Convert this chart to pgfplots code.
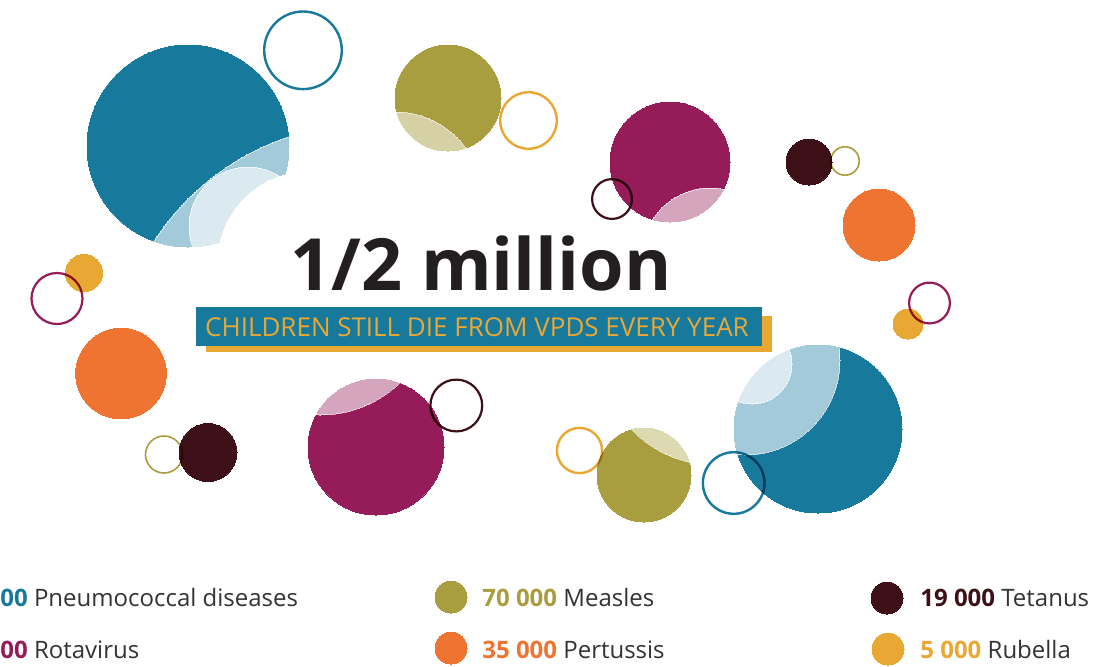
\documentclass[border=0pt]{standalone}
\usepackage{pgfplots}
\pgfplotsset{compat=1.18}
\usepackage{fontspec}
\setmainfont{Open Sans}
\definecolor{cTeal}{HTML}{17799C}
\definecolor{cOlive}{HTML}{A89E3F}
\definecolor{cOrange}{HTML}{EF7431}
\definecolor{cMagenta}{HTML}{951B59}
\definecolor{cMaroon}{HTML}{3D0F16}
\definecolor{cYellow}{HTML}{E9A834}
\definecolor{cText}{HTML}{231F20}
\definecolor{cLeg}{HTML}{333333}
\pgfplotsset{
  disc/.style 2 args={scatter, only marks, mark=*,
    scatter/use mapped color={draw=#1, fill=#1, line width=0pt, blend mode=#2},
    visualization depends on={0.5*\thisrow{r} \as \myR},
    scatter/@pre marker code/.append style={/tikz/mark size=\myR}},
  ring/.style 2 args={scatter, only marks, mark=o,
    scatter/use mapped color={draw=#1, line width=#2*0.5pt, blend mode=multiply},
    visualization depends on={0.5*(\thisrow{r}-#2/2) \as \myR},
    scatter/@pre marker code/.append style={/tikz/mark size=\myR}},
}
\begin{document}
\begin{tikzpicture}
\fill[white] (0,0) rectangle (560pt,333pt);
\path[use as bounding box] (0,0) rectangle (560pt,333pt);
\begin{axis}[hide axis, scale only axis, width=560pt, height=333pt,
  xmin=0, xmax=1120, ymin=0, ymax=666, y dir=reverse, clip=false]
% --- big teal (top left) with highlights
\addplot[disc={cTeal}{normal}] table {
x y r
188 146 101
};
\addplot[disc={white!60!black}{screen}] table {
x y r
369 380 256
248 226 59
};
\addplot[disc={white}{normal}] table {
x y r
308 262 90
};
% --- olive top
\addplot[disc={cOlive}{normal}] table {
x y r
448 98 53
};
\addplot[disc={white!52!black}{screen}] table {
x y r
395 200 88
};
% --- magenta top
\addplot[disc={cMagenta}{normal}] table {
x y r
670 162 60
};
\addplot[disc={white!60!black}{screen}] table {
x y r
710 256 68
};
% --- magenta bottom
\addplot[disc={cMagenta}{normal}] table {
x y r
376 447 68
};
\addplot[disc={white!60!black}{screen}] table {
x y r
320 300 115
};
% --- olive bottom
\addplot[disc={cOlive}{normal}] table {
x y r
644 475 47
};
\addplot[disc={white!60!black}{screen}] table {
x y r
715 350 115
};
% --- teal bottom right
\addplot[disc={cTeal}{normal}] table {
x y r
818 429 84
};
\addplot[disc={white!60!black}{screen}] table {
x y r
745 360 95
752 364 40
};
% --- plain discs
\addplot[disc={cOrange}{normal}] table {
x y r
121 373.5 45.3
879 225 36
};
\addplot[disc={cMaroon}{normal}] table {
x y r
809 162 23
208 452.5 29
};
\addplot[disc={cYellow}{normal}] table {
x y r
84 273 18.5
908 324 15
};
% --- rings
\addplot[ring={cTeal}{2.4}] table {
x y r
303 50.3 40
733.7 483 32
};
\addplot[ring={cYellow}{2.4}] table {
x y r
528.5 120.5 29.5
579.5 450.5 23.8
};
\addplot[ring={cMaroon}{2.2}] table {
x y r
612 199 21
456.3 405.5 27
};
\addplot[ring={cOlive}{1.6}] table {
x y r
845 161 15
164 454.5 19.3
};
\addplot[ring={cMagenta}{2.2}] table {
x y r
929.5 303 21.5
57 298.5 26.6
};
% --- legend markers
\addplot[disc={cOlive}{normal}] table {
x y r
451 597 16
};
\addplot[disc={cOrange}{normal}] table {
x y r
451 648 16
};
\addplot[disc={cMaroon}{normal}] table {
x y r
887 598 16
};
\addplot[disc={cYellow}{normal}] table {
x y r
888 649 16
};
\end{axis}
% --- texts (pixel coordinates, y downward)
\begin{scope}[x=0.5pt, y=-0.5pt, shift={(0pt,333pt)}]
\node[anchor=base, text=cText, font=\bfseries\fontsize{36}{40}\selectfont] at (481,290) {1/2 million};
\node[fill=cYellow, minimum width=283pt, minimum height=18pt, inner sep=0pt] at (489,334) {};
\node[fill=cTeal, minimum width=283pt, minimum height=19.5pt, inner sep=0pt] at (479,326.5) {};
\node[anchor=base, text=cYellow, font=\fontsize{13}{15}\selectfont] at (477,336) {CHILDREN STILL DIE FROM VPDS EVERY YEAR};
\begin{scope}[every node/.style={anchor=base west, text=cLeg, font=\fontsize{12}{14}\selectfont, inner sep=0pt}]
\node at (0,606) {\textbf{\color{cTeal}00} Pneumococcal diseases};
\node at (0,658) {\textbf{\color{cMagenta}00} Rotavirus};
\node at (482,606) {\textbf{\color{cOlive}70 000} Measles};
\node at (482,658) {\textbf{\color{cOrange}35 000} Pertussis};
\node at (920,606) {\textbf{\color{cMaroon}19 000} Tetanus};
\node at (920,658) {\textbf{\color{cYellow}5 000} Rubella};
\end{scope}
\end{scope}
\end{tikzpicture}
\end{document}
